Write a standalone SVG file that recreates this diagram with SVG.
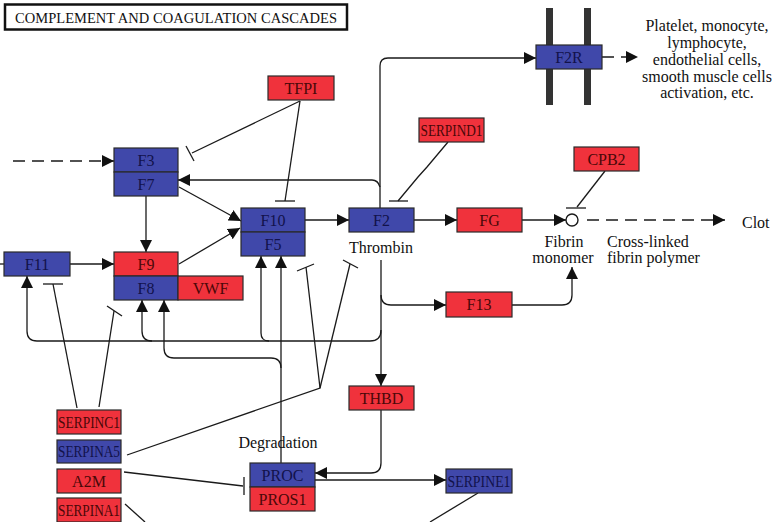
<svg xmlns="http://www.w3.org/2000/svg" width="772" height="522" viewBox="0 0 772 522">
<style>
.r{fill:#F0323C;stroke:#2a2a2a;stroke-width:1.2}
.b{fill:#4048AA;stroke:#2a2a2a;stroke-width:1.2}
.t{font-family:"Liberation Serif","Times New Roman",serif;font-size:16px;text-anchor:middle}
.tr{fill:#4a0808}
.tb{fill:#12124a}
.lab{font-family:"Liberation Serif","Times New Roman",serif;font-size:16px;fill:#111}
.c{fill:none;stroke:#1a1a1a;stroke-width:1.3}
.d{fill:none;stroke:#1a1a1a;stroke-width:1.3;stroke-dasharray:12,7}
.mem{fill:#333}
</style>
<defs>
<marker id="a" viewBox="0 0 12 12" refX="12" refY="6" markerWidth="12" markerHeight="12" markerUnits="userSpaceOnUse" orient="auto"><path d="M0,0 L12,6 L0,12 z" fill="#111"/></marker>
</defs>
<rect width="772" height="522" fill="#fff"/>
<g id="title">
<rect x="5" y="4.5" width="342" height="25" fill="#fff" stroke="#111" stroke-width="2.5"/>
<text x="15" y="23" font-family="Liberation Serif,Times New Roman,serif" font-size="14.5" fill="#111" textLength="322" lengthAdjust="spacing">COMPLEMENT AND COAGULATION CASCADES</text>
</g>
<g id="membrane">
<rect class="mem" x="546" y="8" width="7" height="97"/>
<rect class="mem" x="584" y="8" width="7" height="97"/>
</g>
<g id="connectors">
<path class="d" d="M13,161 H114" marker-end="url(#a)"/>
<path class="c" d="M146,196 V252" marker-end="url(#a)"/>
<path class="c" d="M179,187 L241,221" marker-end="url(#a)"/>
<path class="c" d="M179,264 L240,228" marker-end="url(#a)"/>
<path class="c" d="M0,264 H4"/>
<path class="c" d="M70,264 H114" marker-end="url(#a)"/>
<path class="c" d="M305,220 H349" marker-end="url(#a)"/>
<path class="c" d="M414,220 H457" marker-end="url(#a)"/>
<path class="c" d="M522,220 H566" marker-end="url(#a)"/>
<path class="d" d="M587,220 H725" marker-end="url(#a)"/>
<path class="d" d="M602,57 H638" marker-end="url(#a)"/>
<path class="c" d="M380,208 V66 Q380,58 388,58 H536" marker-end="url(#a)"/>
<path class="c" d="M380,187 Q378,180 372,180 H178" marker-end="url(#a)"/>
<path class="c" d="M300,101 L192,153"/>
<path class="c" d="M186,146 L194,161"/>
<path class="c" d="M300,101 L285,201"/>
<path class="c" d="M275,201 H295"/>
<path class="c" d="M448,142 L427,167 L418,177 L398,201"/>
<path class="c" d="M389,201 H408"/>
<path class="c" d="M605,171 L577,207"/>
<path class="c" d="M566,208 H586"/>
<path class="c" d="M512,305 H562 Q572,305 572,295 V267" marker-end="url(#a)"/>
<path class="c" d="M381,260 V386" marker-end="url(#a)"/>
<path class="c" d="M381,295 Q381,305 391,305 H446" marker-end="url(#a)"/>
<path class="c" d="M381,330 Q381,341 370,341 H37 Q27,341 27,331 V276" marker-end="url(#a)"/>
<path class="c" d="M152,341 Q142,341 142,331 V300" marker-end="url(#a)"/>
<path class="c" d="M269,341 Q261,341 261,333 V256" marker-end="url(#a)"/>
<path class="c" d="M281,463 V256" marker-end="url(#a)"/>
<path class="c" d="M281,368 Q281,358 271,358 H174 Q164,358 164,348 V300" marker-end="url(#a)"/>
<path class="c" d="M381,410 V463 Q381,473 371,473 H315" marker-end="url(#a)"/>
<path class="c" d="M315,480 H446" marker-end="url(#a)"/>
<path class="c" d="M77,408 L53,284"/>
<path class="c" d="M43,284 H63"/>
<path class="c" d="M99,407 L114,311"/>
<path class="c" d="M107,306 L122,316"/>
<path class="c" d="M127,455 L320,388 L306,267"/>
<path class="c" d="M297,271 L314,264"/>
<path class="c" d="M320,388 L350,264"/>
<path class="c" d="M343,260 L358,268"/>
<path class="c" d="M124,472 L243,486"/>
<path class="c" d="M244,477 V495"/>
<path class="c" d="M125,504 L145,522"/>
<path class="c" d="M478,493 L430,522"/>
<circle cx="572" cy="220" r="6" fill="#fff" stroke="#1a1a1a" stroke-width="1.4"/>
</g>
<g id="TFPI"><rect class="r" x="268" y="76" width="66" height="24"/><text class="t tr" x="301" y="94">TFPI</text></g>
<g id="F2R"><rect class="b" x="536" y="45" width="66" height="24"/><text class="t tb" x="569" y="63">F2R</text></g>
<g id="F3"><rect class="b" x="114" y="148" width="64" height="24"/><text class="t tb" x="146" y="166">F3</text></g>
<g id="F7"><rect class="b" x="114" y="172" width="64" height="24"/><text class="t tb" x="146" y="190">F7</text></g>
<g id="SERPIND1"><rect class="r" x="419" y="118" width="65" height="24"/><text class="t tr" x="451.5" y="136" textLength="62" lengthAdjust="spacingAndGlyphs">SERPIND1</text></g>
<g id="CPB2"><rect class="r" x="574" y="147" width="65" height="24"/><text class="t tr" x="606.5" y="165">CPB2</text></g>
<g id="F10"><rect class="b" x="241" y="208" width="64" height="24"/><text class="t tb" x="273" y="226">F10</text></g>
<g id="F5"><rect class="b" x="241" y="232" width="64" height="24"/><text class="t tb" x="273" y="250">F5</text></g>
<g id="F2"><rect class="b" x="349" y="208" width="65" height="24"/><text class="t tb" x="381.5" y="226">F2</text></g>
<g id="FG"><rect class="r" x="457" y="208" width="65" height="24"/><text class="t tr" x="489.5" y="226">FG</text></g>
<g id="F11"><rect class="b" x="4" y="252" width="66" height="24"/><text class="t tb" x="37" y="270">F11</text></g>
<g id="F9"><rect class="r" x="114" y="252" width="64" height="24"/><text class="t tr" x="146" y="270">F9</text></g>
<g id="F8"><rect class="b" x="114" y="276" width="64" height="24"/><text class="t tb" x="146" y="294">F8</text></g>
<g id="VWF"><rect class="r" x="178" y="276" width="65" height="24"/><text class="t tr" x="210.5" y="294">VWF</text></g>
<g id="F13"><rect class="r" x="446" y="292" width="66" height="25"/><text class="t tr" x="479" y="310">F13</text></g>
<g id="THBD"><rect class="r" x="349" y="386" width="65" height="24"/><text class="t tr" x="381.5" y="404">THBD</text></g>
<g id="PROC"><rect class="b" x="250" y="463" width="65" height="24"/><text class="t tb" x="282.5" y="481">PROC</text></g>
<g id="PROS1"><rect class="r" x="250" y="487" width="65" height="24"/><text class="t tr" x="282.5" y="505">PROS1</text></g>
<g id="SERPINE1"><rect class="b" x="446" y="469" width="66" height="24"/><text class="t tb" x="479" y="487" textLength="63" lengthAdjust="spacingAndGlyphs">SERPINE1</text></g>
<g id="SERPINC1"><rect class="r" x="57" y="410" width="64" height="24"/><text class="t tr" x="89" y="428" textLength="62" lengthAdjust="spacingAndGlyphs">SERPINC1</text></g>
<g id="SERPINA5"><rect class="b" x="57" y="440" width="64" height="23"/><text class="t tb" x="89" y="457" textLength="62" lengthAdjust="spacingAndGlyphs">SERPINA5</text></g>
<g id="A2M"><rect class="r" x="57" y="469" width="64" height="24"/><text class="t tr" x="89" y="487">A2M</text></g>
<g id="SERPINA1"><rect class="r" x="57" y="498" width="64" height="24"/><text class="t tr" x="89" y="516" textLength="62" lengthAdjust="spacingAndGlyphs">SERPINA1</text></g>
<g id="labels">
<text class="lab" x="381" y="253" text-anchor="middle">Thrombin</text>
<text class="lab" x="278" y="448" text-anchor="middle">Degradation</text>
<text class="lab" x="564" y="247" text-anchor="middle">Fibrin</text>
<text class="lab" x="563" y="263" text-anchor="middle">monomer</text>
<text class="lab" x="607" y="247">Cross-linked</text>
<text class="lab" x="607" y="263">fibrin polymer</text>
<text class="lab" x="742" y="228">Clot</text>
<text class="lab" x="707" y="31" text-anchor="middle">Platelet, monocyte,</text>
<text class="lab" x="707" y="48" text-anchor="middle">lymphocyte,</text>
<text class="lab" x="707" y="65" text-anchor="middle">endothelial cells,</text>
<text class="lab" x="707" y="82" text-anchor="middle">smooth muscle cells</text>
<text class="lab" x="707" y="98" text-anchor="middle">activation, etc.</text>
</g>
</svg>
